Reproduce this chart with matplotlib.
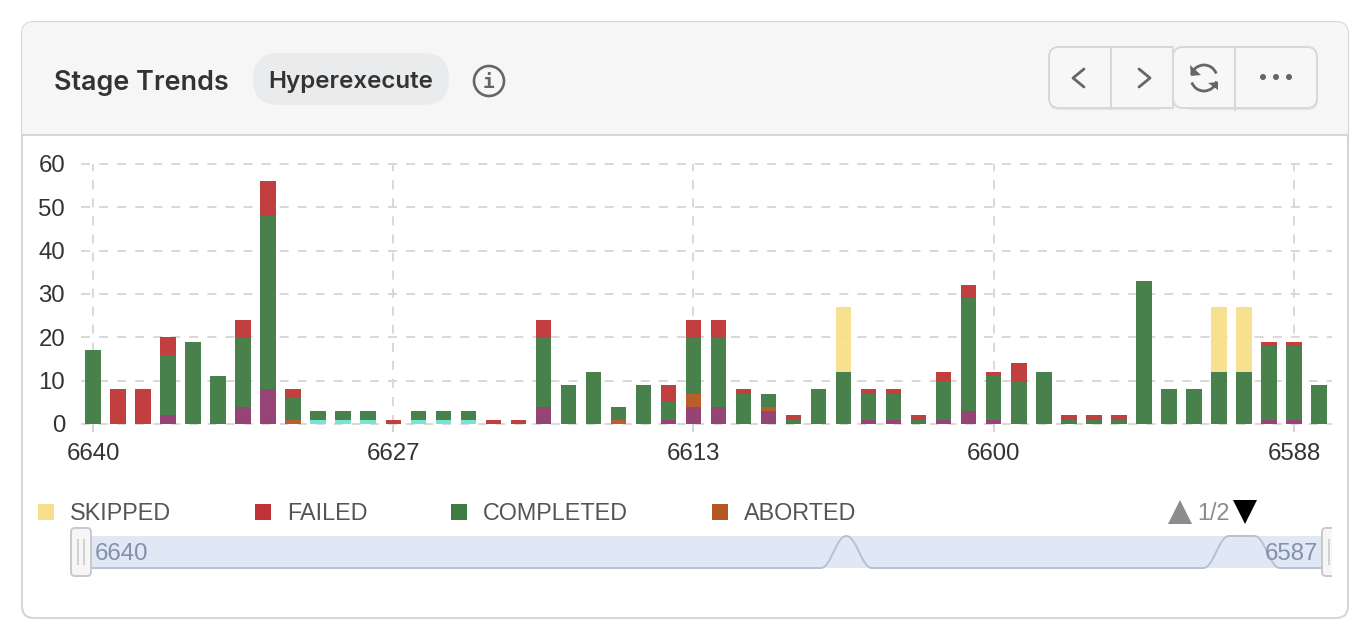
import numpy as np
import matplotlib
matplotlib.use("Agg")
import matplotlib.pyplot as plt
from matplotlib.colors import to_rgba
from matplotlib.patches import FancyBboxPatch, Rectangle, Circle, Arc, Polygon, PathPatch
from matplotlib.path import Path

plt.rcParams['font.family'] = ['Liberation Sans', 'DejaVu Sans']
plt.rcParams['lines.scale_dashes'] = False

builds = ['6640', '6627', '6613', '6600', '6588']
slider_start = '6640'
slider_end = '6587'

purple = [0, 0, 0, 2, 0, 0, 4, 8, 0, 0, 0, 0, 0, 0, 0, 0, 0, 0, 4, 0, 0, 0, 0, 1, 4,
          4, 0, 3, 0, 0, 0, 1, 1, 0, 1, 3, 1, 0, 0, 0, 0, 0, 0, 0, 0, 0, 0, 1, 1, 0]
teal = [0, 0, 0, 0, 0, 0, 0, 0, 0, 1, 1, 1, 0, 1, 1, 1, 0, 0, 0, 0, 0, 0, 0, 0, 0,
        0, 0, 0, 0, 0, 0, 0, 0, 0, 0, 0, 0, 0, 0, 0, 0, 0, 0, 0, 0, 0, 0, 0, 0, 0]
aborted = [0, 0, 0, 0, 0, 0, 0, 0, 1, 0, 0, 0, 0, 0, 0, 0, 0, 0, 0, 0, 0, 1, 0, 0, 3,
           0, 0, 1, 0, 0, 0, 0, 0, 0, 0, 0, 0, 0, 0, 0, 0, 0, 0, 0, 0, 0, 0, 0, 0, 0]
completed = [17, 0, 0, 14, 19, 11, 16, 40, 5, 2, 2, 2, 0, 2, 2, 2, 0, 0, 16, 9, 12, 3, 9, 4, 13,
             16, 7, 3, 1, 8, 12, 6, 6, 1, 9, 26, 10, 10, 12, 1, 1, 1, 33, 8, 8, 12, 12, 17, 17, 9]
failed = [0, 8, 8, 4, 0, 0, 4, 8, 2, 0, 0, 0, 1, 0, 0, 0, 1, 1, 4, 0, 0, 0, 0, 4, 4,
          4, 1, 0, 1, 0, 0, 1, 1, 1, 2, 3, 1, 4, 0, 1, 1, 1, 0, 0, 0, 0, 0, 1, 1, 0]
skipped = [0, 0, 0, 0, 0, 0, 0, 0, 0, 0, 0, 0, 0, 0, 0, 0, 0, 0, 0, 0, 0, 0, 0, 0, 0,
           0, 0, 0, 0, 0, 15, 0, 0, 0, 0, 0, 0, 0, 0, 0, 0, 0, 0, 0, 0, 15, 15, 0, 0, 0]

series = [
    (purple, '#8f3a6e'),
    (teal, '#70e4d0'),
    (aborted, '#b5561f'),
    (completed, '#3f7a43'),
    (failed, '#bf3436'),
    (skipped, '#f7e08a'),
]
legend_items = [('SKIPPED', '#f7e08a', 38), ('FAILED', '#bf3436', 255),
                ('COMPLETED', '#3f7a43', 451), ('ABORTED', '#b5561f', 712)]

W, H = 1366, 642
fig = plt.figure(figsize=(W / 100, H / 100), dpi=100, facecolor='white')

# page furniture is drawn in pixel coordinates
bg = fig.add_axes([0, 0, 1, 1], zorder=0)
bg.set_xlim(0, W)
bg.set_ylim(H, 0)
bg.axis('off')

border = '#d6d6d6'
card = FancyBboxPatch((22, 22), 1326, 596, boxstyle='round,pad=0,rounding_size=12',
                      fc='white', ec=border, lw=1.5)
bg.add_patch(card)
head = Rectangle((22, 22), 1326, 113, fc='#f6f6f6', ec='none')
bg.add_patch(head)
head.set_clip_path(card)
bg.plot([22, 1348], [135, 135], color=border, lw=1.5)

bg.text(54, 83, 'Stage Trends', family='Inter', weight=600, fontsize=19.4, color='#333333', va='center')
bg.add_patch(FancyBboxPatch((253, 53), 196, 52, boxstyle='round,pad=0,rounding_size=26',
                            fc='#eaebed', ec='none'))
bg.text(351, 82, 'Hyperexecute', family='Inter', weight=600, fontsize=17.4, color='#333333',
        va='center', ha='center')
bg.add_patch(Circle((489, 81), 15, fc='none', ec='#666666', lw=1.9))
bg.text(489, 82, 'i', family='DejaVu Sans Mono', weight='bold', fontsize=14, color='#666666',
        ha='center', va='center')

# toolbar buttons
btn_ec = '#d8d8d8'
bg.add_patch(FancyBboxPatch((1049, 48), 140, 62, boxstyle='round,pad=0,rounding_size=10',
                            fc='#e6e6e6', ec='none'))
bg.add_patch(FancyBboxPatch((1173, 48), 145, 62, boxstyle='round,pad=0,rounding_size=10',
                            fc='#e6e6e6', ec='none'))
bg.add_patch(FancyBboxPatch((1049, 47), 140, 61, boxstyle='round,pad=0,rounding_size=10',
                            fc='#f7f7f7', ec=btn_ec, lw=1.4))
bg.add_patch(Rectangle((1160, 46), 30, 64, fc='#f6f6f6', ec='none'))
bg.plot([1160, 1173, 1173, 1160], [47, 47, 108, 108], color=btn_ec, lw=1.4)
bg.add_patch(FancyBboxPatch((1173, 47), 144, 61, boxstyle='round,pad=0,rounding_size=10',
                            fc='#f7f7f7', ec=btn_ec, lw=1.4))
bg.plot([1111, 1111], [47, 109], color=btn_ec, lw=1.4)
bg.plot([1235, 1235], [47, 110], color=btn_ec, lw=1.4)

icon = '#666666'
bg.plot([1084, 1073, 1084], [69, 78, 87], color=icon, lw=2, solid_capstyle='round', solid_joinstyle='round')
bg.plot([1139, 1150, 1139], [69, 78, 87], color=icon, lw=2, solid_capstyle='round', solid_joinstyle='round')
bg.add_patch(Arc((1204, 78), 26, 26, theta1=195, theta2=340, ec=icon, lw=2))
bg.add_patch(Arc((1204, 78), 26, 26, theta1=15, theta2=160, ec=icon, lw=2))
bg.add_patch(Polygon([(1190, 65), (1191, 76), (1201, 75)], fc=icon, ec='none'))
bg.add_patch(Polygon([(1218, 90), (1218, 82), (1208, 83)], fc=icon, ec='none'))
for dot_x in [1263, 1276, 1289]:
    bg.add_patch(Circle((dot_x, 77), 3, fc=icon, ec='none'))

# legend
for name, colour, x0 in legend_items:
    bg.add_patch(Rectangle((x0, 504), 16, 16, fc=colour, ec='none'))
    bg.text(x0 + 32, 514, name, fontsize=16.8, color='#555555', va='center')
bg.add_patch(Polygon([(1168, 524), (1192, 524), (1180, 500)], fc='#8c8c8c', ec='none'))
bg.text(1197, 514, '1/2', fontsize=16.8, color='#8c8c8c', va='center')
bg.add_patch(Polygon([(1233, 500), (1257, 500), (1245, 524)], fc='black', ec='none'))

# zoom slider, its outline follows the first series
bg.add_patch(Rectangle((81, 536), 1241, 32, fc='#e0e7f5', ec='none', zorder=1))
n = len(skipped)
peak = max(skipped)
sx = np.linspace(81, 1331, n)
sy = [568 - v / peak * 32 for v in skipped]
verts = [(sx[0], sy[0])]
codes = [Path.MOVETO]
for i in range(n - 1):
    dx = 0.4 * (sx[i + 1] - sx[i])
    verts += [(sx[i] + dx, sy[i]), (sx[i + 1] - dx, sy[i + 1]), (sx[i + 1], sy[i + 1])]
    codes += [Path.CURVE4] * 3
bg.add_patch(PathPatch(Path(verts, codes), fc='none', ec='#b9c0d0', lw=1.4, zorder=2))
bg.text(95, 554, slider_start, fontsize=17.3, color='#8591a8', va='center', zorder=3)
bg.text(1318, 554, slider_end, fontsize=17.3, color='#8591a8', va='center', ha='right', zorder=3)

bg.add_patch(FancyBboxPatch((71, 528), 20, 48, boxstyle='round,pad=0,rounding_size=4',
                            fc='#f6f6f6', ec='#c8c8c8', lw=1.4, zorder=4))
bg.plot([78, 78], [540, 564], color='#cfcfcf', lw=1.4, zorder=5)
bg.plot([84, 84], [540, 564], color='#cfcfcf', lw=1.4, zorder=5)
right_handle = FancyBboxPatch((1322, 528), 20, 48, boxstyle='round,pad=0,rounding_size=4',
                              fc='#f6f6f6', ec='#c8c8c8', lw=1.4, zorder=4)
bg.add_patch(right_handle)
right_handle.set_clip_path(Rectangle((1310, 520), 22, 70, transform=bg.transData))
bg.plot([1329, 1329], [540, 564], color='#cfcfcf', lw=1.4, zorder=5)

# main chart
ax = fig.add_axes([80.5 / W, (H - 424) / H, 1251 / W, 260 / H], zorder=1)
ax.patch.set_alpha(0)
x = np.arange(n)
bottom = np.zeros(n)
for values, colour in series:
    values = np.array(values)
    drawn = values > 0
    ax.bar(x[drawn], values[drawn], width=15.5 / 25.02, bottom=bottom[drawn], color=to_rgba(colour, 0.95),
           linewidth=0, zorder=3)
    bottom += values

ax.set_xlim(-0.5, n - 0.5)
ax.set_ylim(0, 60)
ax.set_yticks(range(0, 61, 10))
ax.set_xticks(range(0, 49, 12))
ax.set_xticklabels(builds)
for s in ax.spines.values():
    s.set_visible(False)
dash = (0, (6.5, 6.5))
ax.grid(True, color='#d6d6d6', lw=1.3, linestyle=dash, zorder=1, clip_on=False)
for line in ax.get_xgridlines() + ax.get_ygridlines():
    line.set_clip_on(False)
ax.tick_params(axis='y', length=0, pad=11, labelsize=17.3, labelcolor='#333333')
ax.tick_params(axis='x', length=6, width=1.3, color='#d0d0d0', pad=7.5, labelsize=17.3, labelcolor='#333333')

fig.savefig('out.png', dpi=100)
